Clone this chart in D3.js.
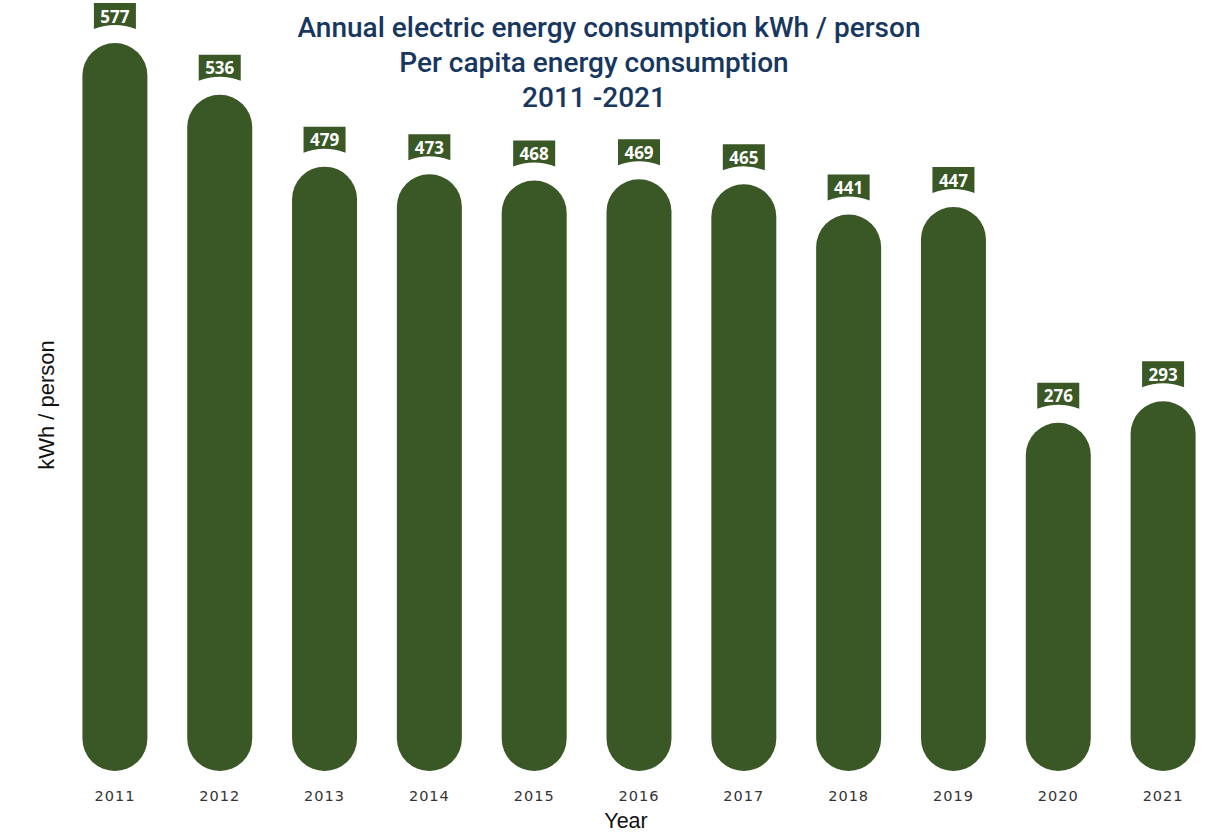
<!DOCTYPE html>
<html>
<head>
<meta charset="utf-8">
<script src="https://cdn.jsdelivr.net/npm/d3@7/dist/d3.min.js"></script>
<style>
  html, body { margin: 0; padding: 0; background: #ffffff; }
  svg { display: block; }
</style>
</head>
<body>
<svg id="chart" width="1209" height="836"></svg>
<script>
// Per capita electricity consumption, kWh per person
const years = ["2011", "2012", "2013", "2014", "2015", "2016", "2017", "2018", "2019", "2020", "2021"];
const consumption = [577, 536, 479, 473, 468, 469, 465, 441, 447, 276, 293];
const titleLines = ["Annual electric energy consumption kWh / person", "Per capita energy consumption", "2011 -2021"];
const xAxisTitle = "Year";
const yAxisTitle = "kWh / person";

const barColor = "#3a5726";
const svg = d3.select("#chart");

const x = d3.scaleBand()
  .domain(years)
  .range([62.5, 1215.5])
  .paddingInner(0.38)
  .paddingOuter(0.19);

const y = d3.scaleLinear()
  .domain([0, 577])
  .range([771, 43]);

// Pill-shaped bars: fully rounded at top and bottom
const bw = x.bandwidth();
svg.append("g").selectAll("rect")
  .data(years)
  .join("rect")
  .attr("x", d => x(d))
  .attr("y", (d, i) => y(consumption[i]))
  .attr("width", bw)
  .attr("height", (d, i) => y(0) - y(consumption[i]))
  .attr("rx", bw / 2)
  .attr("ry", bw / 2)
  .attr("fill", barColor);

// Value badges with a concave lower edge
const bwBadge = 42, bh = 26, dip = 4;
const badges = svg.append("g").selectAll("g")
  .data(years)
  .join("g")
  .attr("transform", (d, i) => `translate(${x(d) + bw / 2},${y(consumption[i]) - 40})`);

badges.append("path")
  .attr("d", `M${-bwBadge / 2},0 H${bwBadge / 2} V${bh} Q0,${bh - 2 * dip} ${-bwBadge / 2},${bh} Z`)
  .attr("fill", barColor);

badges.append("text")
  .attr("x", 0)
  .attr("y", 19.5)
  .attr("text-anchor", "middle")
  .attr("font-family", "'Open Sans', 'Noto Sans', sans-serif")
  .attr("font-weight", "bold")
  .attr("font-size", 17)
  .attr("fill", "#ffffff")
  .text((d, i) => consumption[i]);

// Category axis (labels only)
const xAxis = svg.append("g")
  .attr("transform", `translate(0,${y(0)})`)
  .call(d3.axisBottom(x).tickSize(0).tickPadding(20));
xAxis.select(".domain").remove();
xAxis.selectAll("text")
  .attr("font-family", "'DejaVu Sans', sans-serif")
  .attr("font-size", 14.5)
  .attr("letter-spacing", "1px")
  .attr("fill", "#333333");

// Axis titles
svg.append("text")
  .attr("x", 626)
  .attr("y", 828)
  .attr("text-anchor", "middle")
  .attr("font-family", "'Liberation Sans', Arial, sans-serif")
  .attr("font-size", 21.5)
  .attr("fill", "#111111")
  .text(xAxisTitle);

svg.append("text")
  .attr("transform", "translate(54,405) rotate(-90)")
  .attr("text-anchor", "middle")
  .attr("font-family", "'Liberation Sans', Arial, sans-serif")
  .attr("font-size", 22)
  .attr("fill", "#111111")
  .text(yAxisTitle);

// Chart title
const titleX = [609, 594, 594];
const titleY = [37, 72, 107];
svg.append("g").selectAll("text")
  .data(titleLines)
  .join("text")
  .attr("x", (d, i) => titleX[i])
  .attr("y", (d, i) => titleY[i])
  .attr("text-anchor", "middle")
  .attr("font-family", "Roboto, 'Liberation Sans', sans-serif")
  .attr("font-weight", 500)
  .attr("font-size", 28)
  .attr("fill", "#17375e")
  .text(d => d);
</script>
</body>
</html>
